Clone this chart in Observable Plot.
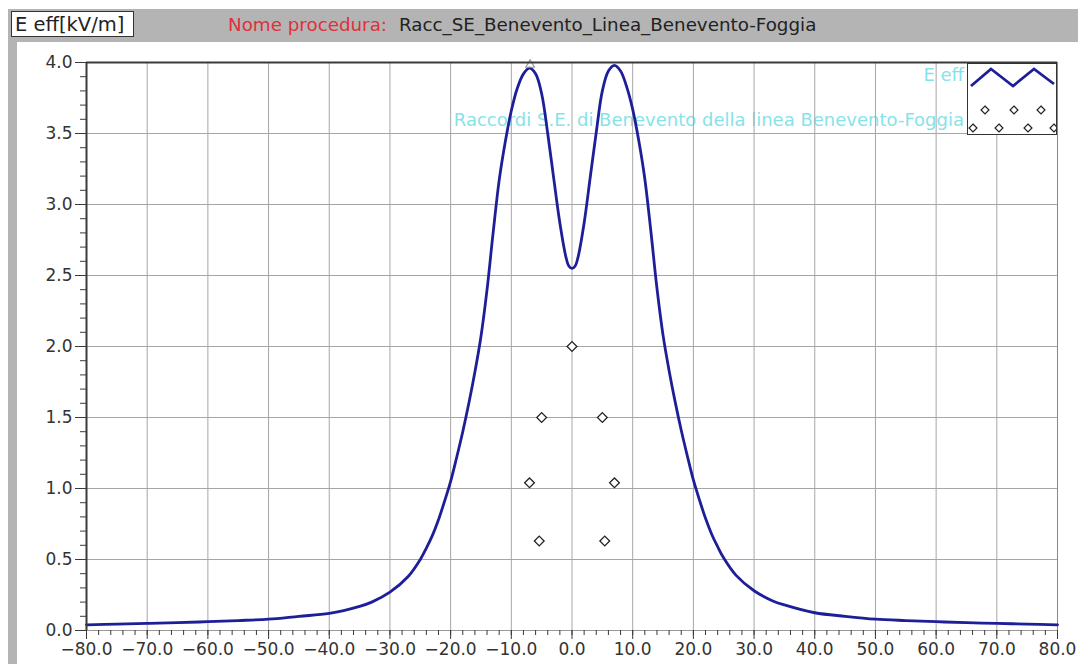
<!DOCTYPE html>
<html>
<head>
<meta charset="utf-8">
<script src="https://cdn.jsdelivr.net/npm/d3@7"></script>
<script src="https://cdn.jsdelivr.net/npm/@observablehq/plot@0.6"></script>
<style>
  html, body { margin: 0; padding: 0; }
  body { width: 1078px; height: 664px; position: relative; overflow: hidden; background: #fff; font-family: "DejaVu Sans", sans-serif; }
  .abs { position: absolute; }
  #topband { left: 8px; top: 9px; width: 1070px; height: 33px; background: #b4b4b4; z-index: 3; }
  #leftstrip { left: 8px; top: 42px; width: 9px; height: 622px; background: #b4b4b4; z-index: 3; }
  #unitbox { left: 11px; top: 11px; height: 26px; background: #fff; border: 1px solid #333; z-index: 4; font-size: 19.5px; line-height: 25px; padding-left: 3px; color: #222; box-sizing: border-box; width: 123px; white-space: nowrap; }
  #title { left: 228px; top: 12px; height: 25px; line-height: 25px; font-size: 18.3px; z-index: 4; color: #222; white-space: nowrap; }
  #title .red { color: #e0303a; margin-right: 12px; }
  #chart { left: 0; top: 40px; z-index: 2; }
  .legtext { color: #86e3ea; font-size: 18px; white-space: nowrap; text-align: right; z-index: 1; line-height: 20px; }
  #legbox { left: 967px; top: 63px; width: 90px; height: 72px; background: #fff; border: 1px solid #333; box-sizing: border-box; z-index: 4; overflow: hidden; }
</style>
</head>
<body>
<div id="topband" class="abs"></div>
<div id="leftstrip" class="abs"></div>
<div id="unitbox" class="abs"></div>
<div id="title" class="abs"><span class="red"></span><span class="blk"></span></div>
<div id="leg1" class="abs legtext"></div>
<div id="leg2" class="abs legtext"></div>
<div id="legbox" class="abs"></div>
<div id="chart" class="abs"></div>
<script>
// ---- data ----
const unitLabel = "E eff[kV/m]";
const titleLabel = "Nome procedura:";
const titleValue = "Racc_SE_Benevento_Linea_Benevento-Foggia";
const seriesName = "E eff";
const conductorsName = "Raccordi S.E. di Benevento della linea Benevento-Foggia";

// distance from axis (m)
const distX = [-80,-75,-70,-65,-60,-55,-50,-45,-40,-35,-33,-30,-27,-25,-24,-23,-22,-21,-20,-19,-18,-17,-16,-15,-14,-13,-12,-11,-10,-9,-8,-7,-6,-5,-4,-3,-2,-1,-0.5,0,0.5,
               1,2,3,4,5,6,7,8,9,10,11,12,13,14,15,16,17,18,19,20,21,22,23,24,25,27,30,33,35,40,45,50,55,60,65,70,75,80];
// field E eff (kV/m)
const effY  = [0.04,0.045,0.05,0.055,0.062,0.07,0.08,0.10,0.12,0.17,0.20,0.27,0.38,0.50,0.58,0.67,0.78,0.91,1.05,1.22,1.40,1.60,1.82,2.07,2.40,2.80,3.17,3.44,3.66,3.82,3.92,3.96,3.92,3.78,3.50,3.18,2.87,2.63,2.565,2.55,2.565,
               2.63,2.87,3.19,3.51,3.80,3.94,3.98,3.94,3.83,3.67,3.45,3.18,2.81,2.41,2.08,1.83,1.61,1.41,1.23,1.06,0.92,0.79,0.68,0.59,0.51,0.39,0.28,0.21,0.18,0.125,0.10,0.08,0.07,0.062,0.055,0.05,0.045,0.04];

// conductor positions
const condX = [0, -5.0, 5.0, -7.0, 7.0, -5.4, 5.4];
const condY = [2.0, 1.5, 1.5, 1.04, 1.04, 0.63, 0.63];

// max marker
const maxX = [-6.9];
const maxY = [3.97];

const xMajor = d3.range(-80, 81, 10);
const xMinor = d3.range(-80, 81, 2);
const yMajor = d3.range(0, 4.01, 0.5);
const yMinor = d3.range(0, 41).map(i => i / 10);

// ---- build ----
const curve = distX.map((x, i) => ({x, y: effY[i]}));
const conductors = condX.map((x, i) => ({x, y: condY[i]}));
const maxPts = maxX.map((x, i) => ({x, y: maxY[i]}));

document.getElementById("unitbox").textContent = unitLabel;
document.querySelector("#title .red").textContent = titleLabel;
document.querySelector("#title .blk").textContent = titleValue;
const l1 = document.getElementById("leg1");
l1.textContent = seriesName;
l1.style.right = (1078 - 964) + "px"; l1.style.top = "65px";
const l2 = document.getElementById("leg2");
l2.textContent = conductorsName;
l2.style.right = (1078 - 964) + "px"; l2.style.top = "110px";

const lineColor = "#1e1e98";
const gridColor = "#a6a6a6";
const axisColor = "#3a3a3a";

const plot = Plot.plot({
  width: 1078,
  height: 624,
  marginLeft: 86,
  marginRight: 21,
  marginTop: 22,
  marginBottom: 34,
  style: {background: "transparent", fontFamily: "DejaVu Sans, sans-serif", fontSize: "17px", color: "#333", overflow: "visible"},
  x: {domain: [-80, 80]},
  y: {domain: [0, 4]},
  marks: [
    Plot.ruleX(xMajor.filter(d => d > -80 && d < 80), {stroke: gridColor, strokeWidth: 1}),
    Plot.ruleY(yMajor.filter(d => d > 0 && d < 4), {stroke: gridColor, strokeWidth: 1}),
    Plot.ruleX([80], {stroke: "#888", strokeWidth: 1}),
    Plot.ruleY([0], {stroke: "#999", strokeWidth: 1}),
    Plot.axisX(xMinor, {tickSize: 5, fill: "none", tickFormat: () => "", stroke: axisColor, label: null}),
    Plot.axisX(xMajor, {tickSize: 9, tickPadding: 3, tickFormat: d3.format(".1f"), stroke: axisColor, fill: "#333", fontSize: 17, label: null}),
    Plot.axisY(yMinor, {tickSize: 6, fill: "none", tickFormat: () => "", stroke: axisColor, label: null}),
    Plot.axisY(yMajor, {tickSize: 11, tickPadding: 3, tickFormat: d3.format(".1f"), stroke: axisColor, fill: "#333", fontSize: 17, label: null}),
    Plot.line(curve, {x: "x", y: "y", stroke: lineColor, strokeWidth: 2.8, curve: "catmull-rom"}),
    Plot.dot(conductors, {x: "x", y: "y", symbol: "diamond2", r: 4.4, stroke: "#222", strokeWidth: 1.3, fill: "white"}),
    Plot.dot(maxPts, {x: "x", y: "y", symbol: "triangle", r: 3.2, stroke: "#999", strokeWidth: 1.2, fill: "none", dy: -2}),
    Plot.ruleY([4], {stroke: axisColor, strokeWidth: 2}),
    Plot.ruleX([-80], {stroke: axisColor, strokeWidth: 2})
  ]
});
document.getElementById("chart").appendChild(plot);

// legend swatches
const legSvg = d3.select("#legbox").append("svg").attr("width", 88).attr("height", 70);
legSvg.append("polyline")
  .attr("points", "3,22 23,5 45,22 66,5 86,20")
  .attr("fill", "none").attr("stroke", lineColor).attr("stroke-width", 2.8);
const diamond = d3.symbol(d3.symbolDiamond2, 40);
[[17,46],[46,46],[73,46],[5,64],[31,64],[60,64],[86,64]].forEach(([cx, cy]) => {
  legSvg.append("path").attr("d", diamond()).attr("transform", `translate(${cx},${cy})`)
    .attr("fill", "white").attr("stroke", "#222").attr("stroke-width", 1.2);
});
</script>
</body>
</html>
